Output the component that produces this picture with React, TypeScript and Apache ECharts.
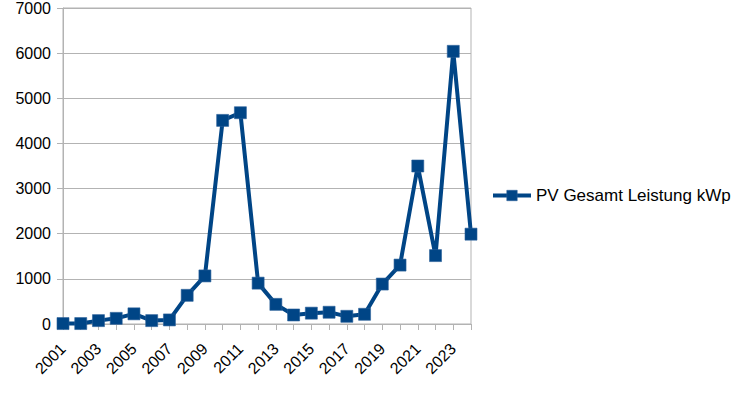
import React, { useEffect, useRef } from "react";
import * as echarts from "echarts";

const years = [
  "2001", "2002", "2003", "2004", "2005", "2006", "2007", "2008", "2009", "2010", "2011", "2012",
  "2013", "2014", "2015", "2016", "2017", "2018", "2019", "2020", "2021", "2022", "2023", "2024",
];
const pvValues = [
  10, 10, 75, 125, 225, 75, 90, 635, 1065, 4510, 4680, 905,
  435, 200, 240, 260, 170, 215, 885, 1305, 3500, 1515, 6040, 1990,
];
const seriesName = "PV Gesamt Leistung kWp";

export default function App() {
  const ref = useRef<HTMLDivElement>(null);
  useEffect(() => {
    if (!ref.current) return;
    const chart = echarts.init(ref.current, undefined, { renderer: "svg" });
    const font = "'Liberation Sans', Arial, sans-serif";
    chart.setOption({
      animation: false,
      backgroundColor: "#ffffff",
      textStyle: { fontFamily: font },
      grid: {
        left: 63,
        right: 271,
        top: 8,
        bottom: 69,
        show: true,
        borderColor: "#b3b3b3",
        borderWidth: 1,
      },
      legend: {
        orient: "vertical",
        left: 491,
        top: 187,
        padding: 0,
        itemWidth: 38,
        itemHeight: 13,
        itemGap: 4,
        itemStyle: { color: "#004586", borderColor: "#2a6099", borderWidth: 0.6 },
        lineStyle: { color: "#004586", width: 4 },
        textStyle: { fontFamily: font, fontSize: 17, color: "#000" },
        data: [seriesName],
      },
      xAxis: {
        type: "category",
        data: years,
        boundaryGap: false,
        axisLine: { show: true, lineStyle: { color: "#b3b3b3", width: 1 } },
        axisTick: { show: true, interval: 0, length: 6, lineStyle: { color: "#b3b3b3" } },
        axisLabel: {
          interval: 1,
          rotate: 45,
          margin: 22,
          fontSize: 16,
          color: "#000",
          fontFamily: font,
        },
        splitLine: { show: false },
      },
      yAxis: {
        type: "value",
        min: 0,
        max: 7000,
        interval: 1000,
        axisLine: { show: true, lineStyle: { color: "#b3b3b3", width: 1 } },
        axisTick: { show: true, length: 6, lineStyle: { color: "#b3b3b3" } },
        axisLabel: {
          fontSize: 16,
          color: "#000",
          margin: 12,
          fontFamily: font,
          formatter: (v: number) => String(v),
        },
        splitLine: { show: true, lineStyle: { color: "#b3b3b3", width: 1 } },
      },
      series: [
        {
          name: seriesName,
          type: "line",
          data: pvValues,
          symbol: "rect",
          symbolSize: 12,
          showAllSymbol: true,
          lineStyle: { color: "#004586", width: 4 },
          itemStyle: { color: "#004586", borderColor: "#2a6099", borderWidth: 0.6 },
          emphasis: { disabled: true },
        },
      ],
    });
    return () => chart.dispose();
  }, []);
  return (
    <div
      ref={ref}
      style={{ position: "fixed", left: 0, top: 0, width: 742, height: 393 }}
    />
  );
}
